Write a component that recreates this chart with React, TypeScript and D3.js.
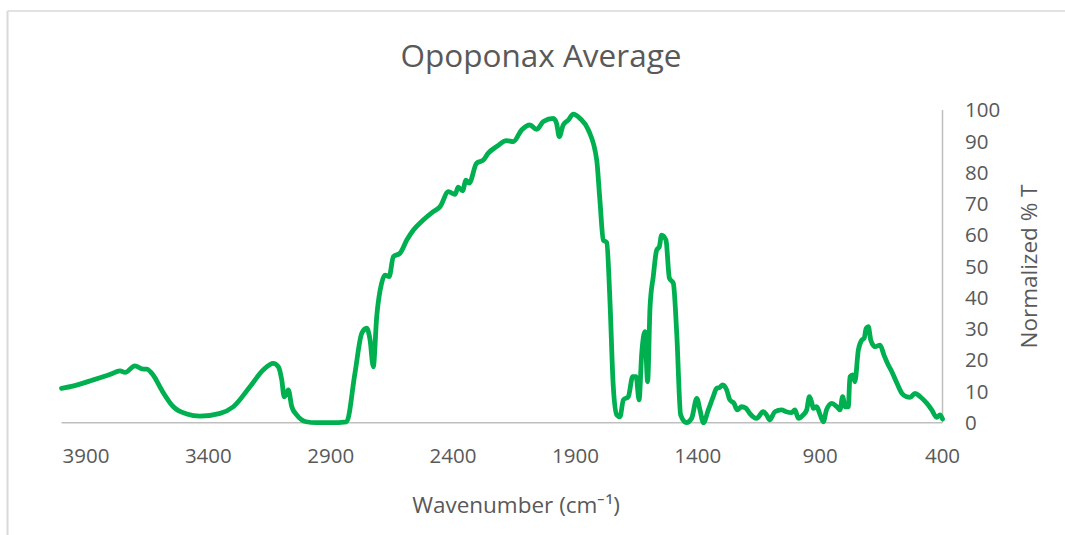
import React from "react";
import * as d3 from "d3";

const title = "Opoponax Average";
const xAxisTitle = "Wavenumber (cm\u207B\u00B9)";
const yAxisTitle = "Normalized % T";
const xTicks = [3900, 3400, 2900, 2400, 1900, 1400, 900, 400];
const yTicks = [0, 10, 20, 30, 40, 50, 60, 70, 80, 90, 100];

const wavenumbers = [
  4000, 3950, 3870, 3800, 3761, 3740, 3700, 3672, 3652, 3625, 3591, 3543, 3488, 3434, 3352, 3298,
  3230, 3175, 3135, 3114, 3100, 3090, 3073, 3059, 3039, 3000, 2960, 2900, 2835, 2801, 2773, 2753,
  2739, 2726, 2712, 2692, 2678, 2661, 2644, 2617, 2589, 2562, 2522, 2481, 2453, 2419, 2392, 2379,
  2361, 2347, 2334, 2304, 2276, 2256, 2222, 2181, 2154, 2120, 2086, 2058, 2031, 1990, 1977, 1966,
  1950, 1929, 1909, 1881, 1847, 1813, 1800, 1786, 1772, 1759, 1746, 1731, 1718, 1704, 1684, 1666,
  1652, 1640, 1629, 1616, 1605, 1595, 1582, 1568, 1557, 1548, 1530, 1516, 1500, 1486, 1470, 1446,
  1425, 1404, 1391, 1377, 1357, 1337, 1323, 1310, 1298, 1282, 1269, 1252, 1239, 1221, 1203, 1188,
  1160, 1133, 1119, 1106, 1085, 1058, 1038, 1017, 1003, 989, 969, 955, 944, 935, 928, 914,
  900, 887, 874, 852, 832, 819, 808, 798, 785, 778, 767, 758, 744, 730, 720, 712,
  703, 693, 675, 655, 639, 625, 607, 586, 566, 546, 533, 512, 491, 464, 444, 424,
  410, 400,
];

const transmittance = [
  11.0, 11.8, 13.7, 15.5, 16.6, 16.1, 18.2, 17.2, 17.1, 15.2, 10.5, 5.1, 2.8, 2.1, 3.0, 5.1,
  11.5, 16.9, 19.0, 17.9, 13.7, 8.3, 10.5, 5.1, 2.5, 0.3, 0, 0, 0.3, 15.8, 28.6, 30.2,
  26.4, 17.9, 33.9, 44.6, 47.2, 46.7, 53.1, 54.2, 58.4, 61.6, 64.8, 67.5, 69.1, 73.9, 73.0, 75.3,
  74.2, 77.6, 76.6, 83.0, 84.0, 86.2, 88.3, 90.2, 89.9, 93.6, 95.2, 93.8, 96.3, 97.3, 95.7, 91.5,
  95.2, 96.8, 98.7, 97.3, 93.6, 84.0, 71.2, 58.4, 57.6, 39.2, 12.6, 2.5, 1.9, 7.3, 8.3, 14.7,
  14.7, 7.3, 22.2, 29.1, 13.1, 37.1, 46.7, 55.2, 56.3, 60.0, 58.4, 46.2, 44.6, 28.6, 2.5, 0,
  1.4, 7.8, 4.1, 0, 4.1, 8.3, 11.0, 11.3, 12.1, 10.5, 7.3, 6.2, 4.1, 5.1, 4.6, 3.0,
  1.4, 3.5, 2.5, 0.9, 3.5, 4.1, 3.5, 3.2, 4.1, 1.4, 2.5, 4.1, 8.3, 6.7, 4.6, 5.1,
  2.5, 0.3, 4.1, 6.2, 5.1, 4.1, 8.3, 5.1, 5.1, 14.7, 15.3, 13.1, 23.2, 26.4, 27.0, 30.2,
  30.7, 26.4, 24.3, 24.8, 21.6, 19.0, 16.3, 12.6, 9.4, 8.3, 8.1, 9.4, 8.3, 6.2, 4.1, 1.7,
  2.5, 1.2,
];

const W = 1065;
const H = 535;
const plot = { left: 61.5, right: 942.5, top: 110, bottom: 422.7 };
const font = "'Open Sans', 'Segoe UI', sans-serif";
const textColor = "#595959";

export default function App() {
  const x = d3.scaleLinear().domain([4000, 400]).range([plot.left, plot.right]);
  const y = d3.scaleLinear().domain([0, 100]).range([plot.bottom, plot.top]);
  const pts: [number, number][] = wavenumbers.map((w, i) => [w, transmittance[i]]);
  const line = d3
    .line<[number, number]>()
    .x((d) => x(d[0]))
    .y((d) => y(d[1]))
    .curve(d3.curveMonotoneX);

  return (
    <svg
      width={W}
      height={H}
      style={{ position: "absolute", left: 0, top: 0, background: "#fff" }}
      fontFamily={font}
    >
      <rect x={0} y={0} width={W} height={H} fill="#fff" />
      {/* chart border */}
      <line x1={7.5} y1={11} x2={W} y2={11} stroke="#d9d9d9" strokeWidth={1.5} />
      <line x1={7.5} y1={11} x2={7.5} y2={H} stroke="#d9d9d9" strokeWidth={2} />

      <text x={541} y={66.5} textAnchor="middle" fontSize={31.5} fill={textColor}>
        {title}
      </text>

      {/* axes */}
      <line x1={plot.left} y1={plot.bottom} x2={plot.right} y2={plot.bottom} stroke="#bfbfbf" strokeWidth={1.5} />
      <line x1={plot.right} y1={plot.top} x2={plot.right} y2={plot.bottom} stroke="#bfbfbf" strokeWidth={1.5} />

      {xTicks.map((t) => (
        <text key={"x" + t} x={x(t)} y={462.5} textAnchor="middle" fontSize={20.5} fill={textColor}>
          {t}
        </text>
      ))}
      {yTicks.map((t) => (
        <text key={"y" + t} x={965} y={y(t) + 7.3} textAnchor="start" fontSize={20.5} fill={textColor}>
          {t}
        </text>
      ))}

      <text x={516} y={512.5} textAnchor="middle" fontSize={22.5} fill={textColor}>
        {xAxisTitle}
      </text>
      <text
        transform={`translate(1036.5, 266.5) rotate(-90)`}
        textAnchor="middle"
        fontSize={22.5}
        fill={textColor}
      >
        {yAxisTitle}
      </text>

      <path
        d={line(pts) || ""}
        fill="none"
        stroke="#00b050"
        strokeWidth={4.8}
        strokeLinejoin="round"
        strokeLinecap="round"
      />
    </svg>
  );
}
